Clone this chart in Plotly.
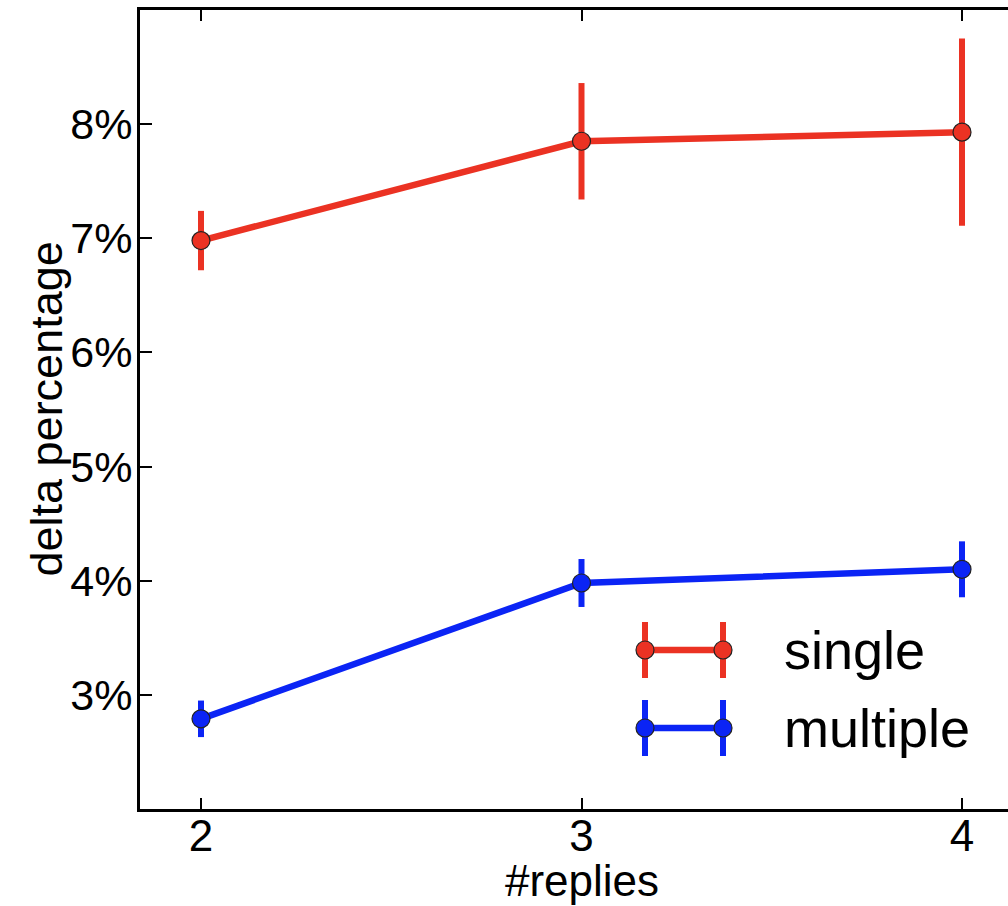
import plotly.graph_objects as go

# Number of replies on the x axis
replies = [2, 3, 4]

# Mean delta percentage and its error per series
single_mean = [6.98, 7.85, 7.93]
single_err = [0.26, 0.51, 0.82]
multiple_mean = [2.79, 3.98, 4.10]
multiple_err = [0.16, 0.21, 0.245]

series_names = ["single", "multiple"]
x_ticks = [2, 3, 4]
y_ticks = [3, 4, 5, 6, 7, 8]

RED = "#EB3223"
BLUE = "#0B24F5"
FONT = "Liberation Sans, Arial, Helvetica, sans-serif"

W, H = 1008, 906
L, R, T, B = 140, 0, 10, 97
X_RANGE = [1.8397, 4.1209]
Y_RANGE = [2.0, 9.0]

fig = go.Figure()

for name, mean, err, color in [
    (series_names[0], single_mean, single_err, RED),
    (series_names[1], multiple_mean, multiple_err, BLUE),
]:
    fig.add_trace(go.Scatter(
        x=replies, y=mean, name=name, mode="lines+markers",
        line=dict(color=color, width=6.5),
        marker=dict(size=18, color=color, line=dict(color="#222222", width=1.2)),
        error_y=dict(type="data", array=err, visible=True, color=color,
                     thickness=6, width=0),
        showlegend=False,
    ))

# Hand-drawn legend: line with two error-bar markers, then the label
pw, ph = W - L - R, H - T - B


def px_to_paper(px, py):
    return (px - L) / pw, 1 - (py - T) / ph


legend_rows = [(series_names[0], RED, 650), (series_names[1], BLUE, 728)]
x_a, x_b = 645, 723
for name, color, yc in legend_rows:
    x0, y0 = px_to_paper(x_a, yc)
    x1, _ = px_to_paper(x_b, yc)
    fig.add_shape(type="line", xref="paper", yref="paper", x0=x0, x1=x1, y0=y0, y1=y0,
                  line=dict(color=color, width=6.5))
    for xc in (x_a, x_b):
        xa, ya = px_to_paper(xc, yc - 28)
        _, yb = px_to_paper(xc, yc + 28)
        fig.add_shape(type="line", xref="paper", yref="paper", x0=xa, x1=xa, y0=ya, y1=yb,
                      line=dict(color=color, width=6))
        cx0, cy0 = px_to_paper(xc - 9, yc - 9)
        cx1, cy1 = px_to_paper(xc + 9, yc + 9)
        fig.add_shape(type="circle", xref="paper", yref="paper",
                      x0=cx0, x1=cx1, y0=cy1, y1=cy0,
                      fillcolor=color, line=dict(color="#222222", width=1.2))
    tx, ty = px_to_paper(782, yc)
    fig.add_annotation(x=tx, y=ty, xref="paper", yref="paper", text=name,
                       showarrow=False, xanchor="left", yanchor="middle",
                       font=dict(family=FONT, size=54, color="black"))

# Axis titles
fig.add_annotation(x=3, y=px_to_paper(0, 880)[1], xref="x", yref="paper",
                   text="#replies", showarrow=False, xanchor="center", yanchor="middle",
                   font=dict(family=FONT, size=44, color="black"))
fig.add_annotation(x=px_to_paper(46, 0)[0], y=0.5, xref="paper", yref="paper",
                   text="delta percentage", showarrow=False, textangle=-90,
                   xanchor="center", yanchor="middle",
                   font=dict(family=FONT, size=45, color="black"))

fig.update_layout(
    width=W, height=H,
    margin=dict(l=L, r=R, t=T, b=B, pad=0),
    paper_bgcolor="white", plot_bgcolor="white",
    font=dict(family=FONT, size=44, color="black"),
    xaxis=dict(range=X_RANGE, tickvals=x_ticks, ticktext=[str(v) for v in x_ticks],
               showgrid=False, zeroline=False, showline=True, linecolor="black",
               linewidth=3, mirror="ticks", ticks="inside", ticklen=11, tickwidth=2,
               tickcolor="black", tickfont=dict(size=44), ticklabelstandoff=-14),
    yaxis=dict(range=Y_RANGE, tickvals=y_ticks, ticktext=[f"{v}%" for v in y_ticks],
               showgrid=False, zeroline=False, showline=True, linecolor="black",
               linewidth=3, mirror=False, ticks="inside", ticklen=12, tickwidth=2,
               tickcolor="black", tickfont=dict(size=43), ticklabelstandoff=-4),
)

fig.write_html("out.html")
